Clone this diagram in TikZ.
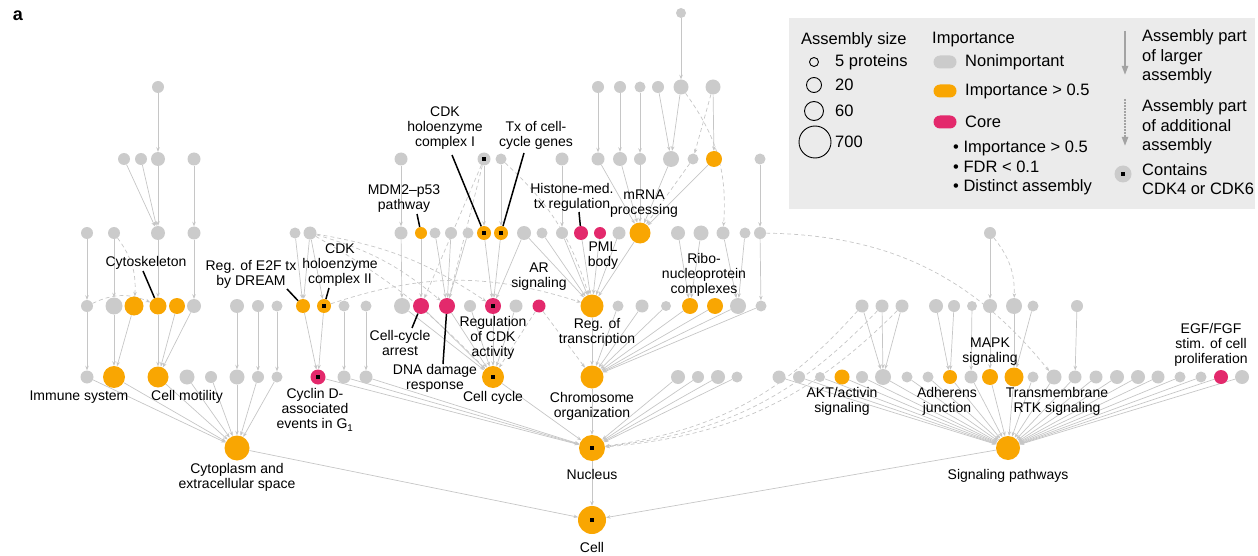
\documentclass[tikz,border=0pt]{standalone}
\usepackage{fontspec}
\setmainfont{Liberation Sans}
\usetikzlibrary{arrows.meta, shapes.misc, backgrounds}

\definecolor{ngray}{HTML}{CBCBCB}
\definecolor{norange}{HTML}{F9A602}
\definecolor{npink}{HTML}{E3296C}
\definecolor{egray}{HTML}{C6C6C6}
\definecolor{lgray}{HTML}{EBEBEB}
\definecolor{agray}{HTML}{A3A3A3}

\tikzset{
  asm/.style={circle, inner sep=0pt, minimum size=#1pt, draw=none},
  link/.style={draw=egray, line width=0.7pt, -{Stealth[length=4.5pt,width=3.5pt]}},
  xlink/.style={link, dash pattern=on 4pt off 3pt},
  pointer/.style={draw=black, line width=1.5pt},
  lbl/.style={font=\fontsize{14}{15}\selectfont, align=center, inner sep=0pt},
  leg/.style={font=\fontsize{16.5}{19.5}\selectfont, align=left, inner sep=0pt, anchor=west},
  pill/.style={rounded rectangle, minimum width=23pt, minimum height=13pt, inner sep=0pt},
}

\begin{document}
\begin{tikzpicture}[x=1pt, y=1pt]
\useasboundingbox (0,0) rectangle (1258,-556);

% Panel letter
\node[font=\bfseries\fontsize{18}{18}\selectfont] (panel) at (18,-16) {a};

% Assemblies, row by row
\node[asm=10, fill=ngray] (n0-681) at (681,-13) {};
\foreach \x/\d in {158/12, 598/12, 620/12, 640/11, 658/12, 681/15, 713/15}
  \node[asm=\d, fill=ngray] (n1-\x) at (\x,-87) {};
\foreach \x/\d/\c in {124/12/ngray, 141/12/ngray, 158/14/ngray, 194/13/ngray,
    401/13/ngray, 484/13/ngray, 501/11/ngray, 562/13/ngray, 598/13/ngray,
    620/14/ngray, 640/12/ngray, 671/16/ngray, 693/11/ngray, 714/16/norange,
    760/11/ngray}
  \node[asm=\d, fill=\c] (n2-\x) at (\x,-159) {};
\foreach \x/\d/\c in {87/12/ngray, 114/12/ngray, 158/14/ngray, 194/13/ngray,
    295/11/ngray, 310/13/ngray, 401/13/ngray, 421/12/norange, 435/11/ngray,
    451/12/ngray, 468/11/ngray, 484/14/norange, 501/14/norange, 524/14/ngray,
    542/11/ngray, 562/12/ngray, 581/14/npink, 600/12/npink, 619/13/ngray,
    640/21/norange, 678/14/ngray, 701/15/ngray, 723/13/ngray, 745/11/ngray,
    760/12/ngray, 990/12/ngray}
  \node[asm=\d, fill=\c] (n3-\x) at (\x,-233) {};
\foreach \x/\d/\c in {87/12/ngray, 114/17/ngray, 134/19/norange, 158/17/norange,
    177/16/norange, 194/14/ngray, 237/14/ngray, 258/12/ngray, 277/11/ngray,
    303/14/norange, 324/14/norange, 344/11/ngray, 366/11/ngray, 402/16/ngray,
    421/16/npink, 447/16/npink, 470/12/ngray, 493/16/npink, 516/13/ngray,
    539/13/npink, 592/23/norange, 618/11/ngray, 642/13/ngray, 666/10/ngray,
    690/16/norange, 715/16/norange, 738/16/ngray, 761/11/ngray, 862/13/ngray,
    882/13/ngray, 902/13/ngray, 936/14/ngray, 954/12/ngray, 972/10/ngray,
    990/14/ngray, 1014/16/ngray, 1033/11/ngray, 1077/12/ngray}
  \node[asm=\d, fill=\c] (n4-\x) at (\x,-306) {};
\foreach \x/\d/\c in {87/13/ngray, 114/22/norange, 158/21/norange, 187/15/ngray,
    211/12/ngray, 237/15/ngray, 258/12/ngray, 277/11/ngray, 318/15/npink,
    344/13/ngray, 366/13/ngray, 493/22/norange, 592/23/norange, 678/14/ngray,
    698/12/ngray, 718/14/ngray, 737/11/ngray, 779/13/ngray, 799/12/ngray,
    820/10/ngray, 842/15/norange, 862/12/ngray, 883/16/ngray, 907/11/ngray,
    928/11/ngray, 950/14/norange, 971/13/ngray, 990/16/norange, 1014/19/norange,
    1033/11/ngray, 1054/15/ngray, 1075/13/ngray, 1096/13/ngray, 1117/14/ngray,
    1138/14/ngray, 1158/13/ngray, 1180/11/ngray, 1201/11/ngray, 1221/14/npink,
    1242/14/ngray}
  \node[asm=\d, fill=\c] (n5-\x) at (\x,-377) {};
\node[asm=25, fill=norange] (n6-237) at (237,-448) {};
\node[asm=26, fill=norange] (n6-592) at (592,-448) {};
\node[asm=24, fill=norange] (n6-1008) at (1008,-448) {};
\node[asm=28, fill=norange] (n7-592) at (592,-520) {};

% CDK4/CDK6 marks
\foreach \n in {n2-484, n3-484, n3-501, n4-324, n4-493, n5-318, n5-493, n6-592, n7-592}
  \fill[black] (\n.center) +(-2pt,-2pt) rectangle +(2pt,2pt);

\begin{scope}[on background layer]
% Assembly part of larger assembly
\foreach \a/\b in {n1-158/n2-158, n2-124/n3-158, n2-141/n3-158, n2-158/n3-158,
    n2-194/n3-194, n3-87/n4-87, n3-114/n4-114, n3-158/n4-158, n3-194/n4-194,
    n4-87/n5-87, n4-114/n5-114, n4-134/n5-114, n4-158/n5-158, n4-177/n5-158,
    n4-194/n5-158, n4-237/n5-237, n4-258/n5-258, n4-277/n5-277,
    n3-295/n4-303, n3-310/n4-303, n3-310/n4-324, n4-303/n5-318, n4-324/n5-318,
    n4-344/n5-344, n4-366/n5-366,
    n2-401/n3-401, n3-401/n4-402, n3-421/n4-421, n3-435/n4-447, n3-451/n4-447,
    n3-468/n4-447, n2-484/n3-484, n2-501/n3-501, n3-484/n4-493, n3-501/n4-493,
    n3-524/n4-493, n4-402/n5-493, n4-421/n5-493, n4-447/n5-493, n4-470/n5-493,
    n4-493/n5-493, n4-516/n5-493,
    n5-318/n6-592, n5-344/n6-592, n5-366/n6-592, n5-493/n6-592, n5-592/n6-592,
    n4-592/n5-592, n4-618/n5-592, n4-642/n5-592, n4-666/n5-592, n4-690/n5-592,
    n4-715/n5-592, n4-738/n5-592, n4-761/n5-592, n2-562/n3-562,
    n3-524/n4-592, n3-542/n4-592, n3-562/n4-592, n3-581/n4-592, n3-600/n4-592,
    n3-619/n4-592, n3-640/n4-592, n2-598/n3-640, n2-620/n3-640, n2-640/n3-640,
    n2-671/n3-640, n2-714/n3-640, n1-598/n2-598, n1-620/n2-620, n1-640/n2-640,
    n1-658/n2-671, n1-681/n2-671, n1-713/n2-714, n0-681/n1-681,
    n2-760/n3-760, n3-760/n4-761, n3-678/n4-690, n3-701/n4-690, n3-723/n4-738,
    n3-745/n4-738, n5-678/n6-592, n5-698/n6-592, n5-718/n6-592, n5-737/n6-592,
    n3-990/n4-990, n4-862/n5-883, n4-882/n5-883, n4-902/n5-883, n4-936/n5-950,
    n4-954/n5-950, n4-972/n5-971, n4-990/n5-990, n4-1014/n5-1014,
    n4-1033/n5-1014, n4-1077/n5-1075,
    n6-237/n7-592, n6-592/n7-592, n6-1008/n7-592}
  \draw[link] (\a) -- (\b);
\foreach \a in {87, 114, 158, 187, 211, 237, 258, 277}
  \draw[link] (n5-\a) -- (n6-237);
\foreach \a in {779, 799, 820, 842, 862, 883, 907, 928, 950, 971, 990, 1014,
    1033, 1054, 1075, 1096, 1117, 1138, 1158, 1180, 1201, 1221, 1242}
  \draw[link] (n5-\a) -- (n6-1008);

% Assembly part of additional assembly
\foreach \a/\b/\k in {n3-114/n4-134/20, n4-87/n4-158/25,
    n3-310/n4-447/12, n3-310/n4-493/12, n3-310/n5-493/8,
    n2-484/n4-421/0, n2-484/n4-447/0, n2-501/n4-592/15, n4-324/n4-592/18,
    n4-539/n5-493/0, n4-539/n5-592/0, n2-693/n3-640/0, n1-713/n2-693/0,
    n1-681/n3-723/20, n3-760/n5-1054/25, n3-990/n4-1014/20,
    n4-862/n6-592/20, n4-882/n6-592/20, n4-902/n6-592/20}
  \draw[xlink] (\a) to[bend left=\k] (\b);
\end{scope}

% Labels
\node[lbl] (l-cyto) at (146,-263) {Cytoskeleton};
\node[lbl] (l-e2f) at (251,-274) {Reg. of E2F tx\\by DREAM};
\node[lbl] (l-cdk2) at (340,-265) {CDK\\holoenzyme\\complex II};
\node[lbl] (l-mdm2) at (404,-199) {MDM2–p53\\pathway};
\node[lbl] (l-cdk1) at (445,-128) {CDK\\holoenzyme\\complex I};
\node[lbl] (l-tx) at (536,-135) {Tx of cell-\\cycle genes};
\node[lbl] (l-hist) at (572,-197) {Histone-med.\\tx regulation};
\node[lbl] (l-mrna) at (644,-204) {mRNA\\processing};
\node[lbl] (l-pml) at (603,-256) {PML\\body};
\node[lbl] (l-ar) at (539,-277) {AR\\signaling};
\node[lbl] (l-ribo) at (704,-275) {Ribo-\\nucleoprotein\\complexes};
\node[lbl] (l-arrest) at (400,-343) {Cell-cycle\\arrest};
\node[lbl] (l-regcdk) at (493,-338) {Regulation\\of CDK\\activity};
\node[lbl] (l-regtx) at (597,-332) {Reg. of\\transcription};
\node[lbl] (l-dna) at (435,-378) {DNA damage\\response};
\node[lbl] (l-immune) at (79,-397) {Immune system};
\node[lbl] (l-motil) at (187,-397) {Cell motility};
\node[lbl] (l-cycd) at (315,-410) {Cyclin D-\\associated\\events in G\textsubscript{1}};
\node[lbl] (l-cc) at (493,-398) {Cell cycle};
\node[lbl] (l-chrom) at (592,-406) {Chromosome\\organization};
\node[lbl] (l-cytopl) at (237,-477) {Cytoplasm and\\extracellular space};
\node[lbl] (l-nuc) at (592,-474) {Nucleus};
\node[lbl] (l-cell) at (592,-547) {Cell};
\node[lbl] (l-sig) at (1008,-476) {Signaling pathways};
\node[lbl] (l-akt) at (842,-401) {AKT/activin\\signaling};
\node[lbl] (l-adh) at (947,-401) {Adherens\\junction};
\node[lbl] (l-mapk) at (990,-352) {MAPK\\signaling};
\node[lbl] (l-rtk) at (1057,-401) {Transmembrane\\RTK signaling};
\node[lbl] (l-egf) at (1211,-345) {EGF/FGF\\stim. of cell\\proliferation};

% Pointer lines
\coordinate (p-cyto) at (143,-271);
\coordinate (p-e2f) at (287,-289);
\coordinate (p-cdk2) at (329,-288);
\coordinate (p-mdm2) at (417,-214);
\coordinate (p-cdk1) at (452,-155);
\coordinate (p-tx) at (524,-153);
\coordinate (p-hist) at (579,-212);
\coordinate (p-arrest) at (412,-328);
\coordinate (p-dna) at (443,-364);
\draw[pointer] (p-cyto) -- (n4-158);
\draw[pointer] (p-e2f) -- (n4-303);
\draw[pointer] (p-cdk2) -- (n4-324);
\draw[pointer] (p-mdm2) -- (n3-421);
\draw[pointer] (p-cdk1) -- (n3-484);
\draw[pointer] (p-tx) -- (n3-501);
\draw[pointer] (p-hist) -- (n3-581);
\draw[pointer] (n4-421) -- (p-arrest);
\draw[pointer] (n4-447) -- (p-dna);

% Legend
\fill[lgray] (789,-18) rectangle (1255,-209);
\node[leg] (k-size) at (801,-40) {Assembly size};
\node[asm=9, draw=black, line width=0.9pt] (k-c5) at (814,-62) {};
\node[asm=15, draw=black, line width=0.9pt] (k-c20) at (814,-85) {};
\node[asm=19, draw=black, line width=0.9pt] (k-c60) at (814,-111) {};
\node[asm=32, draw=black, line width=0.9pt] (k-c700) at (815,-142) {};
\node[leg] (k-5) at (835,-62) {5 proteins};
\node[leg] (k-20) at (835,-85) {20};
\node[leg] (k-60) at (835,-111) {60};
\node[leg] (k-700) at (835,-142) {700};

\node[leg] (k-imp) at (932,-40) {Importance};
\node[pill, fill=ngray] (k-p1) at (945,-62) {};
\node[pill, fill=norange] (k-p2) at (945,-91) {};
\node[pill, fill=npink] (k-p3) at (945,-122) {};
\node[leg] (k-t1) at (965,-62) {Nonimportant};
\node[leg] (k-t2) at (965,-91) {Importance > 0.5};
\node[leg] (k-t3) at (965,-122) {Core};
\node[leg] (k-core) at (953,-168) {\textbullet\ Importance > 0.5\\\textbullet\ FDR < 0.1\\\textbullet\ Distinct assembly};

\coordinate (k-a1) at (1125,-31);
\coordinate (k-b1) at (1125,-75);
\coordinate (k-a2) at (1125,-99);
\coordinate (k-b2) at (1125,-146);
\draw[agray, line width=2pt, -{Triangle[length=9pt,width=6pt]}] (k-a1) -- (k-b1);
\draw[agray, line width=2pt, dash pattern=on 1.6pt off 1.4pt, -{Triangle[length=9pt,width=6pt]}] (k-a2) -- (k-b2);
\node[leg] (k-larger) at (1142,-57) {Assembly part\\of larger\\assembly};
\node[leg] (k-add) at (1142,-127) {Assembly part\\of additional\\assembly};
\node[asm=17, fill=ngray] (k-cdk) at (1123,-174) {};
\fill[black] (k-cdk.center) +(-2pt,-2pt) rectangle +(2pt,2pt);
\node[leg] (k-cont) at (1142,-179) {Contains\\CDK4 or CDK6};
\end{tikzpicture}
\end{document}
